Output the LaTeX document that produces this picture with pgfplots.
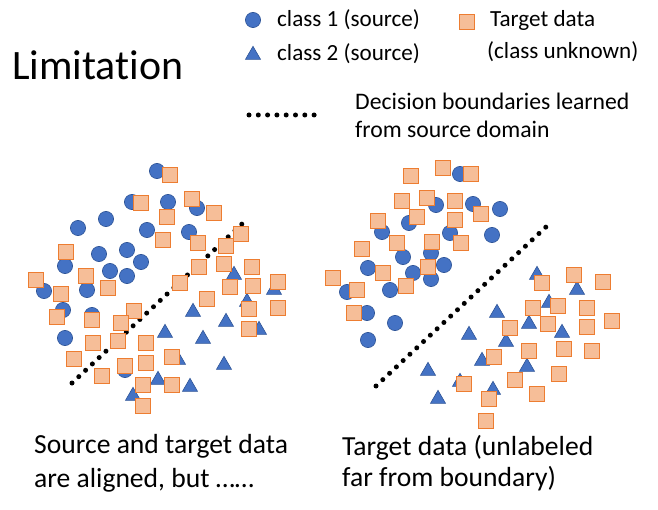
\documentclass[border=0pt]{standalone}
\usepackage{fontspec}
\setmainfont{Carlito}[RawFeature={-liga;-dlig;-clig}]
\usepackage{pgfplots}
\pgfplotsset{compat=1.18}
\definecolor{cblue}{HTML}{4472C4}
\definecolor{cbluedark}{HTML}{2F5597}
\definecolor{sqfill}{HTML}{F6BE98}
\definecolor{sqedge}{HTML}{ED7D31}
\begin{document}
\begin{tikzpicture}
\begin{axis}[x=1bp, y=1bp, y dir=reverse, xmin=0, xmax=658, ymin=0, ymax=510,
  hide axis, clip=false,
  circ/.style={only marks, mark=*, mark size=7.6bp, mark options={fill=cblue, draw=cbluedark, line width=0.6bp}},
  tri/.style={only marks, mark=triangle*, mark size=8.7bp, mark options={fill=cblue, draw=cbluedark, line width=0.6bp}},
  sq/.style={only marks, mark=square*, mark size=7.5bp, mark options={fill=sqfill, draw=sqedge, line width=1.2bp}},
  dots/.style={black, line width=5bp, dash pattern=on 0pt off 9.3bp, line cap=round},
]
\coordinate (ll) at (axis cs:0,510);
\coordinate (ur) at (axis cs:658,0);
% decision boundaries
\addplot[dots] coordinates {(72,383) (243,223)};
\addplot[dots] coordinates {(376,386) (547,226)};
\addplot[dots] coordinates {(249,115) (323,115)};
% left cluster: class 1
\addplot[circ] coordinates {(157,171) (132,202) (168,202) (197,208) (106,219) (78,228) (147,230) (189,232) (127,250) (99,254) (141,262) (65,266) (110,271) (127,276) (44,291) (87,290) (63,310) (92,315) (65,338) (125,370)};
% left cluster: class 2
\addplot[tri] coordinates {(234,275) (274,290) (247,302) (193,312) (226,322) (259,330) (165,333) (203,339) (178,360) (224,365) (158,380) (190,387) (133,396)};
% right cluster: class 1
\addplot[circ] coordinates {(460,174) (436,205) (473,204) (500,209) (409,223) (382,232) (450,233) (492,235) (403,257) (431,253) (444,265) (368,268) (413,273) (431,279) (347,292) (390,290) (367,313) (395,323) (368,340)};
% right cluster: class 2
\addplot[tri] coordinates {(537,275) (577,290) (549,303) (497,313) (529,324) (562,333) (469,335) (506,342) (482,361) (527,367) (428,371) (460,382) (493,390) (438,399)};
% left cluster: target
\addplot[sq] coordinates {(170,175) (141,203) (192,199) (214,213) (167,217) (163,240) (198,243) (241,234) (226,246) (66,252) (86,276) (36,280) (108,288) (61,294) (199,267) (224,264) (252,267) (180,283) (230,287) (253,286) (278,282) (207,299) (249,309) (278,308) (249,329) (134,311) (57,317) (92,320) (121,323) (93,343) (118,341) (146,343) (74,359) (125,366) (146,363) (172,357) (102,376) (143,385) (172,385) (143,406)};
% right cluster: target
\addplot[sq] coordinates {(443,168) (471,174) (411,176) (427,198) (402,201) (455,201) (481,214) (417,217) (378,221) (455,220) (397,243) (432,242) (461,243) (362,249) (428,267) (383,273) (333,278) (357,290) (406,286) (354,313) (542,283) (574,275) (603,282) (533,308) (558,306) (587,308) (510,328) (548,324) (587,327) (612,321) (529,351) (564,349) (592,351) (494,357) (515,380) (559,374) (537,394) (489,399) (464,384) (486,421)};
% legend markers
\addplot[circ] coordinates {(253,20)};
\addplot[tri] coordinates {(253,55)};
\addplot[sq] coordinates {(467,22)};
% texts
\node[anchor=base west, inner sep=0, font=\fontsize{42}{50}\selectfont] at (axis cs:12,80) {Limitation};
\node[anchor=base west, inner sep=0, font=\fontsize{23.2}{27}\selectfont] at (axis cs:277,27) {class 1 (source)};
\node[anchor=base west, inner sep=0, font=\fontsize{23.2}{27}\selectfont] at (axis cs:277,61) {class 2 (source)};
\node[anchor=base west, inner sep=0, font=\fontsize{23.2}{27}\selectfont] at (axis cs:490,27) {Target data};
\node[anchor=base west, inner sep=0, font=\fontsize{23.2}{27}\selectfont] at (axis cs:487,59) {(class unknown)};
\node[anchor=base west, inner sep=0, font=\fontsize{23.8}{27}\selectfont] at (axis cs:355,110) {Decision boundaries learned};
\node[anchor=base west, inner sep=0, font=\fontsize{23.8}{27}\selectfont] at (axis cs:355,138) {from source domain};
\node[anchor=base west, inner sep=0, font=\fontsize{27.7}{32}\selectfont] at (axis cs:34,453) {Source and target data};
\node[anchor=base west, inner sep=0, font=\fontsize{27.7}{32}\selectfont] at (axis cs:34,487) {are aligned, but \dots\dots};
\node[anchor=base west, inner sep=0, font=\fontsize{27.7}{32}\selectfont] at (axis cs:342,455) {Target data (unlabeled};
\node[anchor=base west, inner sep=0, font=\fontsize{27.7}{32}\selectfont] at (axis cs:342,486) {far from boundary)};
\end{axis}
\pgfresetboundingbox
\path (ll) rectangle (ur);
\end{tikzpicture}
\end{document}
